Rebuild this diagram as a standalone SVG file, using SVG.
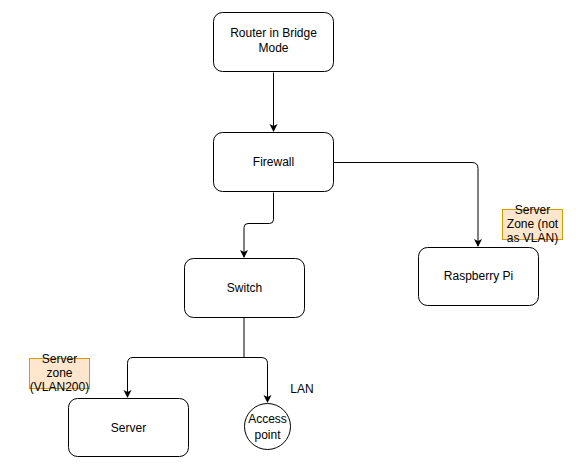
<svg xmlns="http://www.w3.org/2000/svg" width="576" height="467" viewBox="0 0 576 467">
<style>
.box{fill:#fff;stroke:#000;stroke-width:1}
.lbl{fill:#ffe6cc;stroke:#d79b00;stroke-width:1}
.t{font-family:"Liberation Sans",Arial,sans-serif;font-size:12px;fill:#000;text-anchor:middle}
.e{fill:none;stroke:#000;stroke-width:1}
</style>
<defs>
<marker id="arr" markerWidth="10" markerHeight="10" refX="7" refY="4" orient="auto" markerUnits="userSpaceOnUse">
<path d="M0,0 L8,4 L0,8 L2,4 Z" fill="#000"/>
</marker>
</defs>
<rect width="576" height="467" fill="#fff"/>
<g id="connectors">
<path class="e" d="M273.5,72.5 V131" marker-end="url(#arr)"/>
<path class="e" d="M273.5,192.5 V219.5 Q273.5,223.5 269.5,223.5 H248 Q244,223.5 244,227.5 V257" marker-end="url(#arr)"/>
<path class="e" d="M333.5,162.5 H472 Q478,162.5 478,168.5 V246" marker-end="url(#arr)"/>
<path class="e" d="M244,318 V357.5 H133 Q127.5,357.5 127.5,363.5 V397" marker-end="url(#arr)"/>
<path class="e" d="M244,357.5 H261 Q267.5,357.5 267.5,363.5 V402" marker-end="url(#arr)"/>
</g>
<g id="router">
<rect class="box" x="213.5" y="12.5" width="120" height="59" rx="9"/>
<text class="t" x="273.5" y="37">Router in Bridge</text>
<text class="t" x="273.5" y="52">Mode</text>
</g>
<g id="firewall">
<rect class="box" x="213.5" y="132.5" width="120" height="59" rx="9"/>
<text class="t" x="273.5" y="166">Firewall</text>
</g>
<g id="switch">
<rect class="box" x="184.5" y="258.5" width="120" height="59" rx="9"/>
<text class="t" x="244.5" y="292">Switch</text>
</g>
<g id="raspberry">
<rect class="box" x="418.5" y="247.5" width="120" height="58" rx="9"/>
<text class="t" x="478.5" y="280">Raspberry Pi</text>
</g>
<g id="server">
<rect class="box" x="68.5" y="398.5" width="120" height="58" rx="9"/>
<text class="t" x="128.5" y="432">Server</text>
</g>
<g id="accesspoint">
<circle class="box" cx="267.5" cy="426.5" r="23"/>
<text class="t" x="267.5" y="423">Access</text>
<text class="t" x="267.5" y="439">point</text>
</g>
<g id="zone-pi">
<rect class="lbl" x="502.5" y="209.5" width="60" height="30"/>
<text class="t" x="532.5" y="214">Server</text>
<text class="t" x="532.5" y="228">Zone (not</text>
<text class="t" x="532.5" y="242">as VLAN)</text>
</g>
<g id="zone-server">
<rect class="lbl" x="29.5" y="358.5" width="60" height="30"/>
<text class="t" x="59.5" y="363">Server</text>
<text class="t" x="59.5" y="377">zone</text>
<text class="t" x="59.5" y="391">(VLAN200)</text>
</g>
<g id="lan">
<text class="t" x="302" y="393">LAN</text>
</g>
</svg>
